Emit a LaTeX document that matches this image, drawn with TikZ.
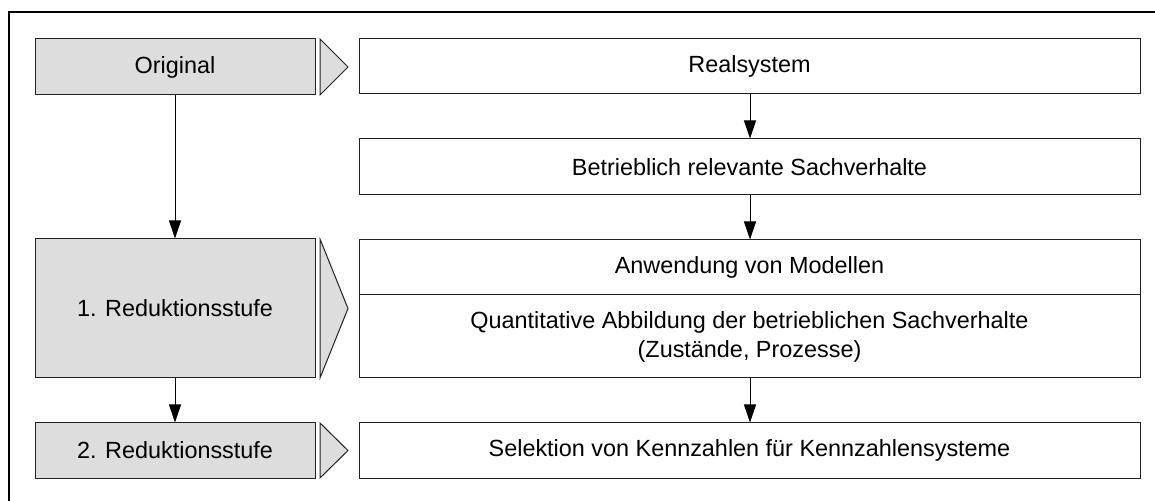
\documentclass[tikz,border=0pt]{standalone}
\usepackage{fontspec}
\setmainfont{Liberation Sans}
\usetikzlibrary{arrows.meta}
\definecolor{boxgray}{HTML}{DDDDDD}
\definecolor{edge}{HTML}{222222}
\begin{document}
\begin{tikzpicture}[x=0.5pt,y=-0.5pt,
  every node/.style={font=\fontsize{11.7}{14.5}\selectfont, inner sep=0pt, align=center},
  graybox/.style={draw=edge, line width=0.5pt, fill=boxgray, rectangle},
  whitebox/.style={draw=edge, line width=0.5pt, fill=white, rectangle},
  chev/.style={draw=edge, line width=0.5pt, fill=boxgray, line join=miter},
  conn/.style={draw=black, line width=0.5pt, -{Triangle[width=6pt,length=9pt]}},
  frame/.style={draw=black, line width=1pt}]
\useasboundingbox (0,0) rectangle (1155,501);
\draw[frame] (9,501) -- (9,12) -- (1155,12);

% left column
\node[graybox, minimum width=140pt, minimum height=28pt] (orig) at (175,67) {Original};
\node[graybox, minimum width=140pt, minimum height=69.5pt] (red1) at (175,308.5) {1. Reduktionsstufe};
\node[graybox, minimum width=140pt, minimum height=27.5pt] (red2) at (175,450.5) {2. Reduktionsstufe};

% chevrons
\draw[chev] (320,39) -- (348,67) -- (320,95) -- cycle;
\draw[chev] (320,239) -- (348,308.5) -- (320,378) -- cycle;
\draw[chev] (320,423) -- (348,450.5) -- (320,478) -- cycle;

% right column
\node[whitebox, minimum width=390.5pt, minimum height=27.5pt] (real) at (749.5,66.5) {Realsystem};
\node[whitebox, minimum width=390.5pt, minimum height=28pt] (betr) at (749.5,167) {Betrieblich relevante Sachverhalte};
\node[whitebox, minimum width=390.5pt, minimum height=27.5pt] (anw) at (749.5,267.5) {Anwendung von Modellen};
\node[whitebox, minimum width=390.5pt, minimum height=41.5pt] (quant) at (749.5,336.5) {Quantitative Abbildung der betrieblichen Sachverhalte\\(Zustände, Prozesse)};
\node[whitebox, minimum width=390.5pt, minimum height=27.5pt] (sel) at (749.5,450.5) {Selektion von Kennzahlen für Kennzahlensysteme};

% connectors
\draw[conn] (orig.south) -- (red1.north);
\draw[conn] (red1.south) -- (red2.north);
\draw[conn] (real.south -| 750,0) -- (betr.north -| 750,0);
\draw[conn] (betr.south -| 750,0) -- (anw.north -| 750,0);
\draw[conn] (quant.south -| 750,0) -- (sel.north -| 750,0);
\end{tikzpicture}
\end{document}
